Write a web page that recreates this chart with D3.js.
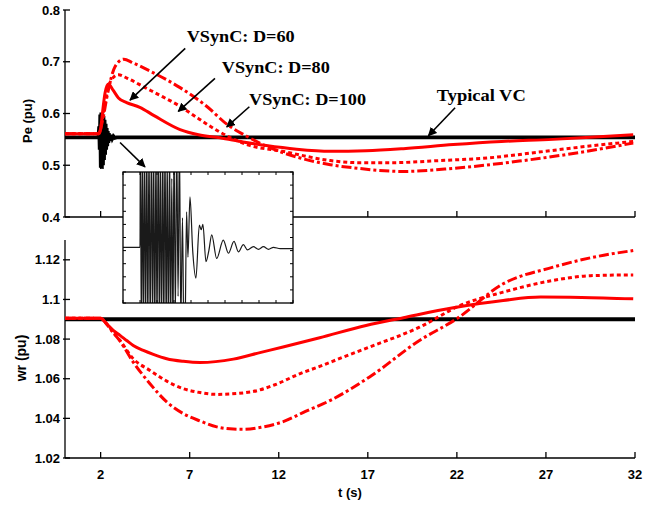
<!DOCTYPE html>
<html>
<head>
<meta charset="utf-8">
<script src="https://cdn.jsdelivr.net/npm/d3@7"></script>
<style>
  body { margin: 0; background: #fff; }
  svg text { font-family: "Liberation Sans", Arial, sans-serif; }
</style>
</head>
<body>
<div id="container"></div>
<script>
// ---- data ----
var xTicks = [2, 7, 12, 17, 22, 27, 32];
var peTicks = [0.4, 0.5, 0.6, 0.7, 0.8];
var wrTicks = [1.02, 1.04, 1.06, 1.08, 1.1, 1.12];

// Pe (pu) curves  [t, value]
var peD60 = [[0,0.561],[1.9,0.561],[2.0,0.57],[2.1,0.6],[2.25,0.64],[2.43,0.657],[2.7,0.645],[3.0,0.63],[3.46,0.621],[4.2,0.612],[5.0,0.596],[6.46,0.569],[7.5,0.559],[8.7,0.553],[10,0.545],[11.3,0.538],[13,0.531],[14.9,0.527],[16.9,0.528],[19,0.532],[21.8,0.540],[24.5,0.546],[27.4,0.550],[29.5,0.554],[31.9,0.559]];
var peD80 = [[0,0.561],[1.9,0.561],[2.1,0.59],[2.3,0.63],[2.6,0.665],[3.0,0.675],[3.5,0.668],[4.5,0.65],[5.5,0.632],[6.46,0.614],[7.5,0.59],[8.7,0.564],[10.3,0.539],[12.2,0.527],[14.9,0.509],[16.5,0.505],[18.4,0.505],[21,0.509],[23.7,0.514],[26.5,0.525],[28.9,0.535],[31.9,0.546]];
var peD100 = [[0,0.561],[1.9,0.561],[2.1,0.585],[2.4,0.64],[2.8,0.69],[3.3,0.705],[3.8,0.698],[4.77,0.682],[6.46,0.650],[7.95,0.614],[9.1,0.579],[10.2,0.556],[11.3,0.537],[13.2,0.514],[14.9,0.501],[16.2,0.495],[19,0.488],[21.8,0.494],[25.5,0.508],[29.3,0.527],[31.9,0.543]];
var peVC = [[0,0.554],[1.88,0.554],[1.92,0.575],[1.95,0.53],[1.98,0.598],[2.01,0.495],[2.04,0.602],[2.07,0.493],[2.10,0.600],[2.13,0.50],[2.16,0.595],[2.19,0.51],[2.22,0.588],[2.25,0.52],[2.28,0.58],[2.31,0.53],[2.34,0.572],[2.37,0.537],[2.40,0.566],[2.43,0.543],[2.46,0.562],[2.50,0.547],[2.54,0.559],[2.58,0.550],[2.62,0.557],[2.66,0.552],[2.72,0.556],[2.80,0.553],[2.9,0.554],[32,0.554]];

// wr (pu) curves
var wrD60 = [[0,1.0905],[2,1.0905],[2.34,1.0877],[2.71,1.0844],[3.09,1.0819],[3.46,1.0793],[3.83,1.0768],[4.4,1.0743],[4.96,1.0723],[5.71,1.0701],[6.64,1.0688],[7.58,1.0682],[9.45,1.0699],[11,1.0733],[12.24,1.076],[14.3,1.0807],[16.9,1.0869],[19,1.0908],[21.8,1.0958],[24.6,1.0995],[26.7,1.1012],[29,1.101],[31.9,1.1003]];
var wrD80 = [[0,1.0905],[2,1.0905],[2.34,1.0877],[2.71,1.0835],[3.09,1.0793],[3.83,1.0701],[4.77,1.0642],[5.71,1.0588],[6.64,1.055],[7.58,1.053],[8.5,1.0521],[10.4,1.0533],[11.8,1.057],[13.2,1.0626],[14.3,1.0662],[15.5,1.0705],[17.1,1.076],[19.9,1.086],[22.2,1.097],[24.6,1.1037],[27.4,1.1096],[29.5,1.112],[31.9,1.1124]];
var wrD100 = [[0,1.0905],[2,1.0905],[2.34,1.0875],[2.71,1.0832],[3.09,1.079],[3.83,1.0684],[4.77,1.0575],[5.71,1.0483],[6.64,1.0424],[7.58,1.0387],[8.52,1.0357],[9.45,1.0346],[10,1.0345],[11,1.0355],[12.2,1.0382],[13.5,1.0435],[14.9,1.0491],[17.1,1.0609],[19.9,1.0793],[22,1.0903],[24.6,1.1079],[27.4,1.1163],[29.5,1.121],[31.9,1.1247]];
var wrVC = [[0,1.09],[32,1.09]];

// zoomed Pe of typical VC (inset, arbitrary units)
var insetSignal = [[0,-0.15],[1.0,-0.15],[1.02,1.5],[1.08,-1.5],[1.14,1.5],[1.2,-1.5],[1.27,1.5],[1.33,-1.5],[1.4,1.5],[1.46,-1.5],[1.53,1.5],[1.6,-1.5],[1.67,1.5],[1.74,-1.5],[1.8,1.5],[1.87,-1.5],[1.94,1.5],[2.0,-1.5],[2.07,1.5],[2.14,-1.5],[2.2,1.5],[2.27,-1.5],[2.34,1.5],[2.4,-1.5],[2.47,1.5],[2.54,-1.5],[2.6,1.3],[2.67,-1.5],[2.74,1.5],[2.8,-1.5],[2.87,0.9],[2.94,-1.5],[3.0,1.5],[3.08,-1.2],[3.16,1.5],[3.24,-0.9],[3.32,1.5],[3.4,-1.3],[3.5,0.3],[3.58,-1.5],[3.66,-1.2],[3.74,0.39],[3.82,-0.3],[3.94,0.62],[4.1,-0.2],[4.29,-0.62],[4.49,0.19],[4.6,0.12],[4.7,0.2],[4.88,-0.37],[5.05,-0.2],[5.22,0.04],[5.51,-0.32],[5.9,-0.04],[6.2,-0.24],[6.53,-0.06],[6.79,-0.22],[7.08,-0.11],[7.32,-0.19],[7.67,-0.14],[7.97,-0.18],[8.26,-0.14],[8.56,-0.18],[8.85,-0.15],[9.25,-0.17],[9.84,-0.17],[10,-0.17]];

// annotations: label, text position and arrow (top panel data units)
var notes = [
  { label: "VSynC: D=60",  tx: 6.83,  ty: 0.739, len: 108, from: [6.75, 0.726],  to: [3.65, 0.626] },
  { label: "VSynC: D=80",  tx: 8.8,   ty: 0.678, len: 108, from: [8.42, 0.668],  to: [6.36, 0.604] },
  { label: "VSynC: D=100", tx: 10.33, ty: 0.616, len: 117, from: [10.35, 0.613], to: [9.08, 0.574] },
  { label: "Typical VC",   tx: 20.87, ty: 0.625, len: 89,  from: [21.9, 0.611],  to: [20.4, 0.557] },
  { label: "",             tx: 0,     ty: 0,     len: 0,   from: [3.09, 0.544],  to: [4.49, 0.497] }
];

var width = 652, height = 506;

var svg = d3.select("#container").append("svg")
  .attr("width", width)
  .attr("height", height);

var defs = svg.append("defs");
defs.append("marker")
  .attr("id", "arrow")
  .attr("viewBox", "0 0 10 10")
  .attr("refX", 9).attr("refY", 5)
  .attr("markerWidth", 9).attr("markerHeight", 9)
  .attr("markerUnits", "userSpaceOnUse")
  .attr("orient", "auto")
  .append("path")
  .attr("d", "M0,0 L10,5 L0,10 z")
  .attr("fill", "#000");

var x = d3.scaleLinear().domain([0, 32]).range([65, 635]);
var yPe = d3.scaleLinear().domain([0.4, 0.8]).range([217, 10]);
var yWr = d3.scaleLinear().domain([1.02, 1.13]).range([458, 240]);

var tickFont = "bold 13px 'Liberation Sans', Arial, sans-serif";

function drawPanel(y, yTicks, fmt, showXLabels){
  var g = svg.append("g");

  // left axis
  g.append("line")
    .attr("x1", x(0)).attr("x2", x(0))
    .attr("y1", y.range()[0]).attr("y2", y.range()[1])
    .attr("stroke", "#000").attr("stroke-width", 1.3);
  // bottom axis
  g.append("line")
    .attr("x1", x(0)).attr("x2", x(32))
    .attr("y1", y.range()[0]).attr("y2", y.range()[0])
    .attr("stroke", "#000").attr("stroke-width", 1.3);

  g.selectAll(".yt").data(yTicks).enter().append("line")
    .attr("x1", x(0) - 2).attr("x2", x(0) + 5)
    .attr("y1", function(d){ return y(d); })
    .attr("y2", function(d){ return y(d); })
    .attr("stroke", "#000").attr("stroke-width", 1.3);

  g.selectAll(".yl").data(yTicks).enter().append("text")
    .attr("x", x(0) - 5)
    .attr("y", function(d){ return y(d); })
    .attr("dy", "0.36em")
    .attr("text-anchor", "end")
    .style("font", tickFont)
    .text(fmt);

  g.selectAll(".xt").data(xTicks).enter().append("line")
    .attr("x1", function(d){ return x(d); })
    .attr("x2", function(d){ return x(d); })
    .attr("y1", y.range()[0]).attr("y2", y.range()[0] - 6)
    .attr("stroke", "#000").attr("stroke-width", 1.3);

  if (showXLabels) {
    g.selectAll(".xl").data(xTicks).enter().append("text")
      .attr("x", function(d){ return x(d); })
      .attr("y", y.range()[0] + 21)
      .attr("text-anchor", "middle")
      .style("font", tickFont)
      .text(function(d){ return d; });
  }
  return g;
}

function drawCurve(data, y, color, w, dash){
  var line = d3.line()
    .x(function(d){ return x(d[0]); })
    .y(function(d){ return y(d[1]); })
    .curve(d3.curveMonotoneX);
  svg.append("path")
    .datum(data)
    .attr("d", line)
    .attr("fill", "none")
    .attr("stroke", color)
    .attr("stroke-width", w)
    .attr("stroke-dasharray", dash || null);
}

drawPanel(yPe, peTicks, function(d){ return d3.format(".1f")(d); }, false);
drawPanel(yWr, wrTicks, function(d){ return d3.format(".2~f")(d); }, true);

// black: typical VC
svg.append("path")
  .datum(peVC)
  .attr("d", d3.line().x(function(d){ return x(d[0]); }).y(function(d){ return yPe(d[1]); }))
  .attr("fill", "none").attr("stroke", "#000").attr("stroke-width", 3.8);
drawCurve(wrVC, yWr, "#000", 4);

// red: VSynC
drawCurve(peD100, yPe, "#ff0000", 3, "10,3,3,3");
drawCurve(peD80, yPe, "#ff0000", 3, "4,3");
drawCurve(peD60, yPe, "#ff0000", 3);
drawCurve(wrD100, yWr, "#ff0000", 3, "10,3,3,3");
drawCurve(wrD80, yWr, "#ff0000", 3, "4,3");
drawCurve(wrD60, yWr, "#ff0000", 3);

// axis titles
svg.append("text")
  .attr("transform", "translate(32,121) rotate(-90)")
  .attr("text-anchor", "middle")
  .style("font", tickFont)
  .text("Pe (pu)");
svg.append("text")
  .attr("transform", "translate(26,358) rotate(-90)")
  .attr("text-anchor", "middle")
  .style("font", "bold 14px 'Liberation Sans', Arial, sans-serif")
  .text("wr (pu)");
svg.append("text")
  .attr("x", 350).attr("y", 497)
  .attr("text-anchor", "middle")
  .style("font", tickFont)
  .text("t (s)");

// ---- inset ----
var ix = d3.scaleLinear().domain([0, 10]).range([123, 293]);
var iy = d3.scaleLinear().domain([-1, 1]).range([303, 172]);

var inset = svg.append("g");
defs.append("clipPath").attr("id", "insetClip")
  .append("rect")
  .attr("x", ix(0)).attr("y", iy(1))
  .attr("width", ix(10) - ix(0)).attr("height", iy(-1) - iy(1));

inset.append("rect")
  .attr("x", ix(0)).attr("y", iy(1))
  .attr("width", ix(10) - ix(0)).attr("height", iy(-1) - iy(1))
  .attr("fill", "#fff");

inset.append("path")
  .datum(insetSignal)
  .attr("clip-path", "url(#insetClip)")
  .attr("d", d3.line()
    .x(function(d){ return ix(d[0]); })
    .y(function(d){ return iy(d[1]); })
    .curve(d3.curveMonotoneX))
  .attr("fill", "none").attr("stroke", "#1a1a1a").attr("stroke-width", 1.2);

var ixTicks = d3.range(0, 11);
var iyTicks = d3.range(-1, 1.01, 0.2);
inset.selectAll(".ixb").data(ixTicks).enter().append("line")
  .attr("x1", function(d){ return ix(d); }).attr("x2", function(d){ return ix(d); })
  .attr("y1", iy(-1)).attr("y2", iy(-1) - 3)
  .attr("stroke", "#000");
inset.selectAll(".ixt").data(ixTicks).enter().append("line")
  .attr("x1", function(d){ return ix(d); }).attr("x2", function(d){ return ix(d); })
  .attr("y1", iy(1)).attr("y2", iy(1) + 3)
  .attr("stroke", "#000");
inset.selectAll(".iyl").data(iyTicks).enter().append("line")
  .attr("x1", ix(0)).attr("x2", ix(0) + 3)
  .attr("y1", function(d){ return iy(d); }).attr("y2", function(d){ return iy(d); })
  .attr("stroke", "#000");
inset.selectAll(".iyr").data(iyTicks).enter().append("line")
  .attr("x1", ix(10)).attr("x2", ix(10) - 3)
  .attr("y1", function(d){ return iy(d); }).attr("y2", function(d){ return iy(d); })
  .attr("stroke", "#000");
inset.append("rect")
  .attr("x", ix(0)).attr("y", iy(1))
  .attr("width", ix(10) - ix(0)).attr("height", iy(-1) - iy(1))
  .attr("fill", "none").attr("stroke", "#000").attr("stroke-width", 1.3);

// ---- annotations ----
svg.selectAll(".arrow").data(notes).enter().append("line")
  .attr("x1", function(d){ return x(d.from[0]); })
  .attr("y1", function(d){ return yPe(d.from[1]); })
  .attr("x2", function(d){ return x(d.to[0]); })
  .attr("y2", function(d){ return yPe(d.to[1]); })
  .attr("stroke", "#000").attr("stroke-width", 1.6)
  .attr("marker-end", "url(#arrow)");

svg.selectAll(".note").data(notes.filter(function(d){ return d.label; })).enter().append("text")
  .attr("x", function(d){ return x(d.tx); })
  .attr("y", function(d){ return yPe(d.ty); })
  .attr("textLength", function(d){ return d.len; })
  .attr("lengthAdjust", "spacingAndGlyphs")
  .style("font", "bold 17px 'Liberation Serif', 'Times New Roman', serif")
  .text(function(d){ return d.label; });
</script>
</body>
</html>
